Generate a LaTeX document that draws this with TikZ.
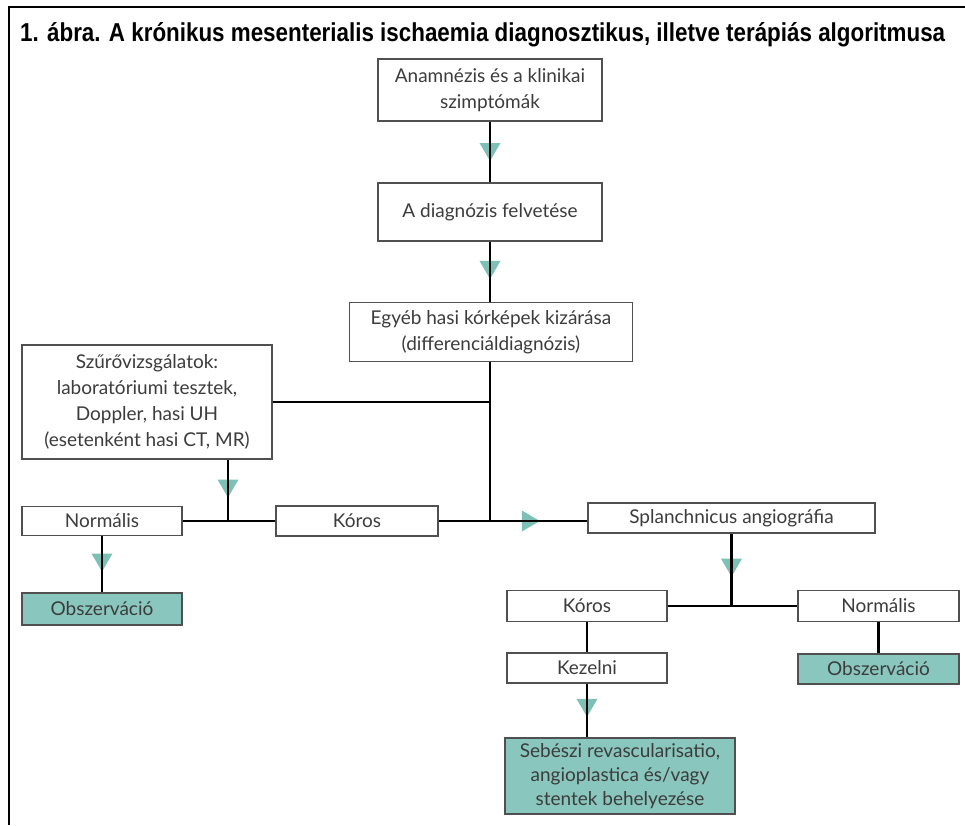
\documentclass[tikz,border=0pt]{standalone}
\usepackage{fontspec}
\setmainfont{Lato}
\newfontfamily\titlefont{Liberation Sans}
\usetikzlibrary{decorations.markings}
\definecolor{tealfill}{RGB}{137,198,189}
\definecolor{trifill}{RGB}{125,192,182}
\definecolor{txt}{RGB}{60,60,60}
\definecolor{bord}{RGB}{80,80,80}
\begin{document}
\begin{tikzpicture}[x=1pt,y=-1pt,
  box/.style={draw=bord,line width=1.4pt,fill=white,inner sep=0pt,align=center,text=txt,font=\fontsize{19}{26}\selectfont},
  gbox/.style={box,fill=tealfill},
  conn/.style={line width=2.7pt,draw=black},
  tmark/.style={preaction={decorate,decoration={markings,mark=at position #1 with {\fill[trifill] (9pt,0pt) -- (-9pt,10.5pt) -- (-9pt,-10.5pt) -- cycle;}}}},
  frame/.style={line width=2.6pt,draw=black}
]
\useasboundingbox (0,0) rectangle (965,825);
\coordinate (fa) at (965,7);
\coordinate (fb) at (9,7);
\coordinate (fc) at (9,825);
\draw[frame] (fa) -- (fb) -- (fc);

\node[anchor=base west,inner sep=0pt] (title) at (20,41) {\resizebox{925pt}{19pt}{\titlefont\bfseries 1. ábra. A krónikus mesenterialis ischaemia diagnosztikus, illetve terápiás algoritmusa}};

\node[box,minimum width=224pt,minimum height=62pt] (anam) at (490,90) {Anamnézis és a klinikai\\szimptómák};
\node[box,minimum width=224pt,minimum height=58pt] (diag) at (490,212) {A diagnózis felvetése};
\node[box,minimum width=283pt,minimum height=59pt] (egyeb) at (491,332) {Egyéb hasi kórképek kizárása\\(differenciáldiagnózis)};
\node[box,minimum width=250pt,minimum height=114pt] (szuro) at (147,402) {Szűrővizsgálatok:\\laboratóriumi tesztek,\\Doppler, hasi UH\\(esetenként hasi CT, MR)};
\node[box,minimum width=160pt,minimum height=29pt] (norm1) at (102,521) {Normális};
\node[box,minimum width=162pt,minimum height=30pt] (koros1) at (357,521) {Kóros};
\node[box,minimum width=287pt,minimum height=30pt] (spl) at (731.5,518) {Splanchnicus angiográfia};
\node[gbox,minimum width=160pt,minimum height=32pt] (obs1) at (102,609) {Obszerváció};
\node[box,minimum width=160pt,minimum height=31pt] (koros2) at (587,606) {Kóros};
\node[box,minimum width=161pt,minimum height=31pt] (norm2) at (878.5,606) {Normális};
\node[box,minimum width=160pt,minimum height=30pt] (kez) at (587,668) {Kezelni};
\node[gbox,minimum width=161pt,minimum height=30pt] (obs2) at (878.5,669) {Obszerváció};
\node[gbox,minimum width=230pt,minimum height=76pt,font=\fontsize{19}{24}\selectfont] (seb) at (620,776) {Sebészi revascularisatio,\\angioplastica és/vagy\\stentek behelyezése};

\coordinate (j1) at (490,521);
\coordinate (j2) at (228,521);
\coordinate (j3) at (731.5,606);

\draw[conn,tmark=0.5] (anam) -- (diag);
\draw[conn,tmark=0.47] (diag) -- (diag.south |- egyeb.north);
\draw[conn] (egyeb.south -| j1) -- (j1);
\draw[conn] (szuro.east) -- (szuro.east -| j1);
\draw[conn,tmark=0.47] (j2 |- szuro.south) -- (j2);
\draw[conn] (norm1) -- (koros1);
\draw[conn,tmark=0.62] (koros1.east) -- (koros1.east -| spl.west);
\draw[conn,tmark=0.47] (norm1) -- (obs1);
\draw[conn,tmark=0.47] (spl.south -| j3) -- (j3);
\draw[conn] (koros2) -- (norm2);
\draw[conn] (koros2) -- (kez);
\draw[conn,tmark=0.45] (kez.south) -- (kez.south |- seb.north);
\draw[conn] (norm2) -- (obs2);
\end{tikzpicture}
\end{document}
